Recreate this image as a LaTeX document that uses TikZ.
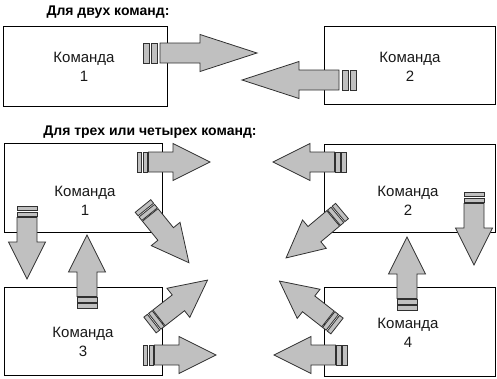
\documentclass[tikz,border=0pt]{standalone}
\usepackage{fontspec}
\setmainfont{Liberation Sans}
\definecolor{arrgray}{HTML}{C0C0C0}
\definecolor{arrline}{HTML}{303030}
\tikzset{
  box/.style={draw=black, line width=0.9pt, inner sep=0pt, outer sep=0pt},
  lbl/.style={font=\fontsize{15}{19}\selectfont, align=center, text=black!90},
  ttl/.style={font=\bfseries\fontsize{14}{16}\selectfont, text=black},
  arr/.style={fill=arrgray, draw=arrline, line width=0.8pt, line join=miter},
  pics/bigarrow/.style={code={
    \path[arr] (0,-10) rectangle (6,10);
    \path[arr] (8,-10) rectangle (14,10);
    \path[arr] (17,-10) -- (57,-10) -- (57,-18.5) -- (114,0) -- (57,18.5) -- (57,10) -- (17,10) -- cycle;}},
  pics/smallarrow/.style={code={
    \path[arr] (0,-10) rectangle (4.5,10);
    \path[arr] (6,-10) rectangle (10.5,10);
    \path[arr] (11.5,-10) -- (36,-10) -- (36,-18.5) -- (73,0) -- (36,18.5) -- (36,10) -- (11.5,10) -- cycle;}},
}
\begin{document}
\begin{tikzpicture}[x=1pt,y=-1pt]
\useasboundingbox (0,0) rectangle (497,378);
% titles
\node[ttl] (t1) at (108,12) {Для двух команд:};
\node[ttl] (t2) at (150,132) {Для трех или четырех команд:};
% top section boxes
\node[box, minimum width=164, minimum height=80] (a1) at (85,66) {};
\node[box, minimum width=171, minimum height=78] (a2) at (409.5,65) {};
\node[lbl] (la1) at (84,67) {Команда\\1};
\node[lbl] (la2) at (410,67) {Команда\\2};
% bottom section boxes
\node[box, minimum width=158, minimum height=89] (b1) at (83,187.5) {};
\node[box, minimum width=158, minimum height=88] (b3) at (83,331) {};
\node[box, minimum width=171, minimum height=88] (b2) at (409.5,188) {};
\node[box, minimum width=171, minimum height=89] (b4) at (409.5,331.5) {};
\node[lbl] (lb1) at (85,200.5) {Команда\\1};
\node[lbl] (lb3) at (83,342) {Команда\\3};
\node[lbl] (lb2) at (408,200.5) {Команда\\2};
\node[lbl] (lb4) at (408,332.5) {Команда\\4};
% top arrows
\pic at (143,53) {bigarrow};
\pic[rotate=180] at (356,80) {bigarrow};
% bottom arrows, team 1
\pic at (137,162) {smallarrow};
\pic[rotate=-90] at (27,206) {smallarrow};
\pic[rotate=-51] at (143,206) {smallarrow};
% team 3
\pic[rotate=90] at (87,308) {smallarrow};
\pic[rotate=38] at (150,325) {smallarrow};
\pic at (143,355) {smallarrow};
% team 2
\pic[rotate=180] at (346,162) {smallarrow};
\pic[rotate=-90] at (474,192) {smallarrow};
\pic[rotate=-140] at (342,211) {smallarrow};
% team 4
\pic[rotate=90] at (407,310) {smallarrow};
\pic[rotate=142] at (337,326) {smallarrow};
\pic[rotate=180] at (347,355) {smallarrow};
\end{tikzpicture}
\end{document}
